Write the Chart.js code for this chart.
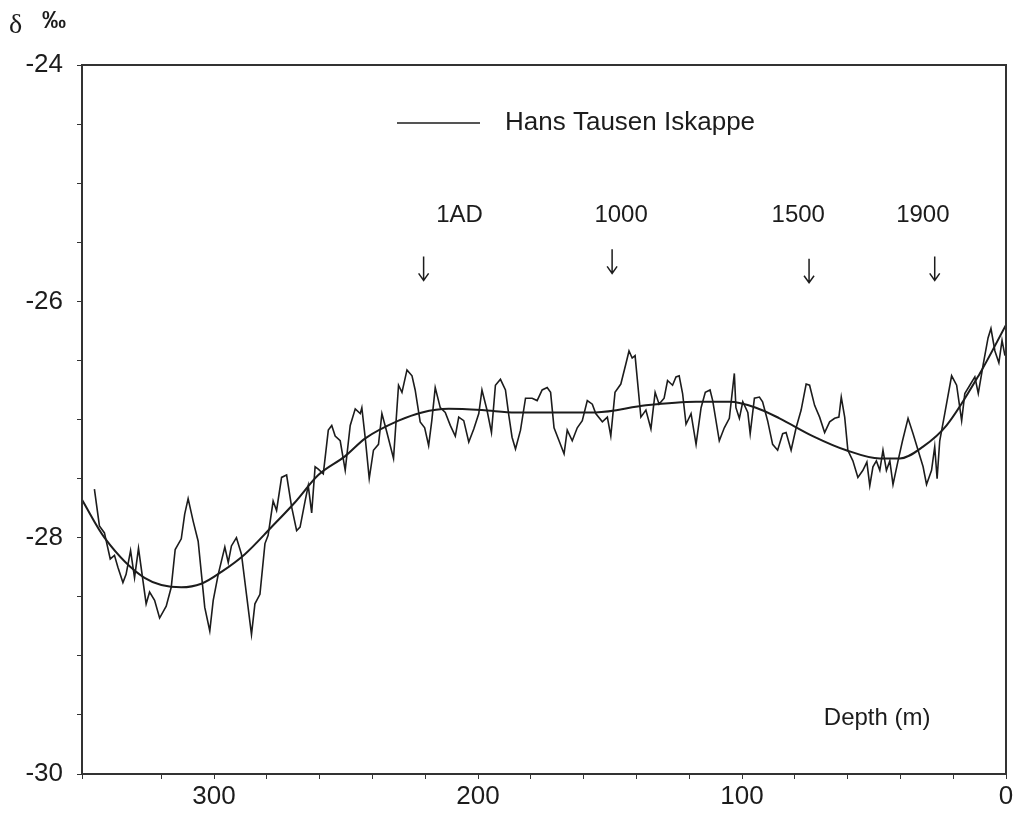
<!DOCTYPE html>
<html>
<head>
<meta charset="utf-8">
<script src="https://cdn.jsdelivr.net/npm/chart.js@4.4.0/dist/chart.umd.min.js"></script>
<style>
  html, body { margin: 0; padding: 0; background: #fff; }
  #wrap { position: relative; width: 1016px; height: 818px; }
</style>
</head>
<body>
<div id="wrap"><canvas id="chart" width="1016" height="818"></canvas></div>
<script>
// raw record: depth (m) and delta (per mil)
const depth = [
  345.3, 343.4, 341.5, 339.3, 337.7, 336.4, 334.5, 333.3, 331.6, 330.1,
  328.6, 325.7, 324.4, 322.5, 320.6, 318.1, 316.2, 314.7, 312.4, 311.1,
  309.8, 307.9, 306.0, 303.5, 301.6, 300.3, 298.4, 295.9, 294.6, 293.4,
  291.5, 289.6, 287.7, 285.8, 284.5, 282.6, 280.7, 279.5, 277.6, 276.3,
  274.4, 272.5, 270.6, 268.7, 267.4, 265.5, 264.3, 263.0, 261.7, 260.5,
  258.6, 256.7, 255.4, 254.1, 252.2, 250.3, 248.4, 246.5, 244.6, 244.0,
  242.7, 241.2, 239.6, 237.7, 236.4, 234.5, 232.0, 230.1, 228.8, 226.9,
  225.0, 223.8, 221.9, 220.2, 218.7, 217.5, 216.2, 214.3, 212.4, 210.5,
  208.6, 207.3, 205.4, 203.5, 201.6, 199.7, 198.5, 196.6, 194.9, 193.4,
  191.5, 189.6, 188.3, 187.1, 185.8, 183.9, 182.0, 179.5, 177.6, 175.7,
  173.8, 172.5, 171.2, 169.3, 167.4, 166.2, 164.3, 162.4, 160.5, 158.6,
  156.7, 155.4, 152.9, 151.0, 149.7, 148.1, 145.9, 144.0, 142.8, 141.6,
  140.5, 138.3, 136.4, 134.5, 132.9, 131.4, 129.5, 128.2, 126.3, 125.0,
  123.8, 122.5, 121.2, 119.3, 117.4, 115.5, 113.9, 112.1, 111.1, 108.6,
  106.7, 104.8, 102.9, 102.3, 101.0, 99.7, 97.8, 96.9, 95.3, 93.4,
  92.2, 90.3, 88.4, 86.5, 84.6, 83.3, 81.4, 79.5, 77.6, 75.7,
  74.4, 72.5, 70.6, 68.7, 66.8, 64.9, 63.3, 62.4, 61.1, 59.9,
  58.0, 56.1, 54.2, 52.7, 51.6, 50.4, 49.1, 47.8, 46.6, 45.3,
  44.0, 42.8, 40.9, 39.2, 37.1, 35.2, 33.3, 31.4, 30.1, 28.2,
  27.0, 26.1, 25.1, 23.2, 20.6, 18.7, 16.8, 15.6, 13.7, 11.8,
  10.5, 8.6, 6.8, 5.7, 4.2, 2.7, 1.5, 0.4
];
const delta = [
  -27.59, -27.90, -27.96, -28.18, -28.15, -28.25, -28.38, -28.31, -28.11, -28.34,
  -28.09, -28.56, -28.46, -28.53, -28.68, -28.58, -28.42, -28.10, -28.01, -27.80,
  -27.67, -27.86, -28.03, -28.59, -28.79, -28.53, -28.31, -28.08, -28.21, -28.07,
  -28.00, -28.14, -28.48, -28.82, -28.56, -28.48, -28.05, -27.98, -27.69, -27.77,
  -27.49, -27.47, -27.74, -27.94, -27.91, -27.69, -27.56, -27.79, -27.40, -27.42,
  -27.46, -27.09, -27.05, -27.14, -27.18, -27.43, -27.05, -26.91, -26.95, -26.90,
  -27.16, -27.50, -27.26, -27.21, -26.95, -27.11, -27.33, -26.71, -26.77, -26.58,
  -26.63, -26.75, -27.02, -27.07, -27.22, -27.01, -26.73, -26.90, -26.94, -27.05,
  -27.14, -26.98, -27.01, -27.19, -27.08, -26.95, -26.75, -26.92, -27.11, -26.71,
  -26.66, -26.75, -26.97, -27.15, -27.25, -27.09, -26.82, -26.82, -26.84, -26.75,
  -26.73, -26.77, -27.07, -27.18, -27.29, -27.09, -27.18, -27.07, -27.01, -26.84,
  -26.87, -26.95, -27.02, -26.98, -27.14, -26.77, -26.70, -26.53, -26.42, -26.48,
  -26.46, -26.98, -26.92, -27.08, -26.77, -26.87, -26.82, -26.67, -26.71, -26.64,
  -26.63, -26.78, -27.04, -26.95, -27.21, -26.90, -26.77, -26.75, -26.84, -27.18,
  -27.07, -26.99, -26.61, -26.90, -26.99, -26.85, -26.94, -27.12, -26.82, -26.81,
  -26.85, -27.01, -27.21, -27.26, -27.12, -27.11, -27.26, -27.07, -26.92, -26.70,
  -26.71, -26.88, -26.98, -27.11, -27.02, -26.99, -26.98, -26.81, -26.98, -27.26,
  -27.35, -27.49, -27.43, -27.36, -27.56, -27.40, -27.35, -27.43, -27.26, -27.43,
  -27.35, -27.55, -27.35, -27.18, -26.99, -27.12, -27.26, -27.40, -27.55, -27.43,
  -27.23, -27.50, -27.18, -26.95, -26.63, -26.71, -27.01, -26.78, -26.71, -26.64,
  -26.78, -26.53, -26.31, -26.23, -26.42, -26.52, -26.33, -26.46
];

// smoothed curve
const smoothDepth = [
  350, 341.5, 326.3, 312.4, 304.8, 297.2, 288.3, 278.2, 269.3, 260.5,
  250.3, 242.7, 230.1, 221.2, 211.1, 198.5, 185.8, 173.1, 155.4, 136.4,
  117.4, 104.8, 94.7, 85.8, 73.2, 60.5, 47.8, 40.2, 31.4, 22.5,
  9.9, 0
];
const smoothDelta = [
  -27.68, -28.00, -28.34, -28.42, -28.39, -28.29, -28.14, -27.91, -27.70, -27.47,
  -27.31, -27.16, -27.01, -26.94, -26.91, -26.92, -26.94, -26.94, -26.94, -26.88,
  -26.85, -26.85, -26.90, -26.99, -27.14, -27.26, -27.33, -27.33, -27.23, -27.05,
  -26.61, -26.20
];

const xTickLabels = [0, 100, 200, 300];
const yTickLabels = [-30, -28, -26, -24];

// age markers
const markerLabels = ['1AD', '1000', '1500', '1900'];
const markerDepth = [220.6, 149.2, 74.6, 27.0];
const markerLabelDepth = [207, 145.8, 78.7, 31.5];
const markerArrowTop = [-25.62, -25.56, -25.64, -25.62];

const INK = '#1c1c1c';
const SANS = '"Liberation Sans", Arial, sans-serif';

const overlay = {
  id: 'overlay',
  afterDraw(chart) {
    const { ctx, chartArea: a, scales: { x, y } } = chart;
    ctx.save();

    // frame
    ctx.strokeStyle = '#333';
    ctx.lineWidth = 2;
    ctx.strokeRect(a.left, a.top, a.right - a.left, a.bottom - a.top);

    // legend
    ctx.strokeStyle = INK;
    ctx.lineWidth = 1.6;
    ctx.beginPath();
    ctx.moveTo(a.left + 315, a.top + 58);
    ctx.lineTo(a.left + 398, a.top + 58);
    ctx.stroke();
    ctx.fillStyle = INK;
    ctx.font = '26px ' + SANS;
    ctx.textAlign = 'left';
    ctx.textBaseline = 'middle';
    ctx.fillText('Hans Tausen Iskappe', a.left + 423, a.top + 58);

    // age markers
    ctx.font = '24px ' + SANS;
    ctx.textAlign = 'center';
    markerLabels.forEach((label, i) => {
      ctx.fillText(label, x.getPixelForValue(markerLabelDepth[i]), y.getPixelForValue(-25.27));
      const ax = x.getPixelForValue(markerDepth[i]);
      const top = y.getPixelForValue(markerArrowTop[i]);
      const tip = top + 24;
      ctx.lineWidth = 1.5;
      ctx.beginPath();
      ctx.moveTo(ax, top);
      ctx.lineTo(ax, tip);
      ctx.moveTo(ax - 5, tip - 7);
      ctx.lineTo(ax, tip);
      ctx.lineTo(ax + 5, tip - 7);
      ctx.stroke();
    });

    // axis titles
    ctx.textAlign = 'left';
    ctx.font = '24px ' + SANS;
    ctx.fillText('Depth (m)', x.getPixelForValue(69), y.getPixelForValue(-29.53));
    ctx.font = '28px "Liberation Serif", "Times New Roman", serif';
    ctx.fillText('\u03b4', 9, 26);
    ctx.font = 'bold 24px ' + SANS;
    ctx.fillText('\u2030', 42, 21);

    ctx.restore();
  }
};

new Chart(document.getElementById('chart'), {
  type: 'line',
  data: {
    datasets: [
      {
        label: 'Hans Tausen Iskappe',
        data: depth.map((d, i) => ({ x: d, y: delta[i] })),
        borderColor: INK,
        borderWidth: 1.6,
        pointRadius: 0,
        tension: 0,
        fill: false
      },
      {
        label: 'smooth',
        data: smoothDepth.map((d, i) => ({ x: d, y: smoothDelta[i] })),
        borderColor: INK,
        borderWidth: 2,
        pointRadius: 0,
        cubicInterpolationMode: 'monotone',
        fill: false
      }
    ]
  },
  options: {
    responsive: false,
    animation: false,
    devicePixelRatio: 1,
    layout: { padding: { top: 65, right: 10, left: 0, bottom: 0 } },
    plugins: { legend: { display: false }, tooltip: { enabled: false } },
    scales: {
      x: {
        type: 'linear',
        reverse: true,
        min: 0,
        max: 350,
        afterFit: (scale) => { scale.height = 44; },
        border: { display: true, color: '#222', width: 2 },
        grid: { drawOnChartArea: false, drawTicks: true, tickLength: 5, color: '#333' },
        ticks: {
          stepSize: 20,
          autoSkip: false,
          maxRotation: 0,
          padding: 2,
          color: INK,
          font: { family: SANS, size: 26 },
          callback: (v) => (xTickLabels.includes(v) ? String(v) : '')
        }
      },
      y: {
        min: -30,
        max: -24,
        afterFit: (scale) => { scale.width = 82; },
        border: { display: true, color: '#222', width: 2 },
        grid: { drawOnChartArea: false, drawTicks: true, tickLength: 5, color: '#333' },
        ticks: {
          stepSize: 0.5,
          autoSkip: false,
          padding: 14,
          color: INK,
          font: { family: SANS, size: 26 },
          callback: (v) => (yTickLabels.includes(v) ? String(v) : '')
        }
      }
    }
  },
  plugins: [overlay]
});
</script>
</body>
</html>
